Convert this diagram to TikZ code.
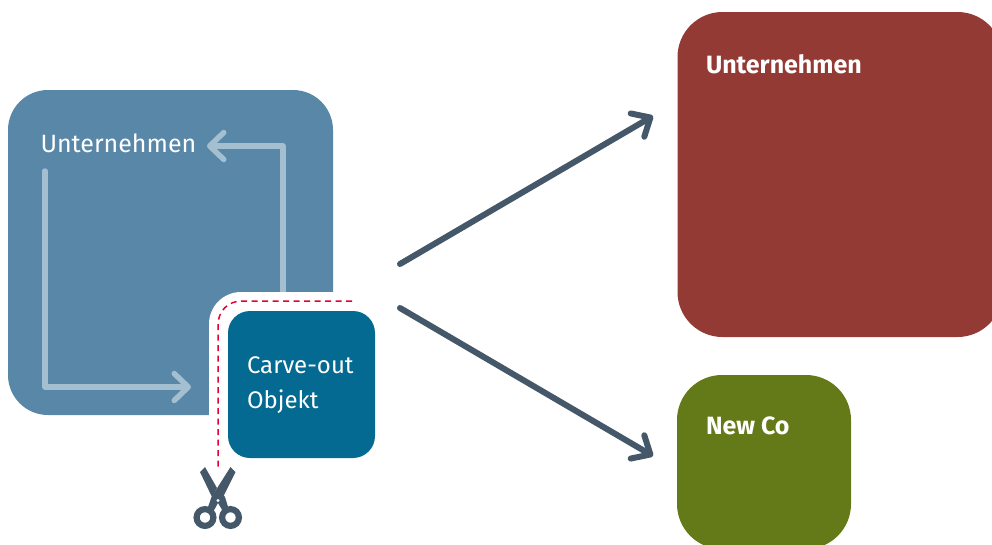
\documentclass[tikz,border=0pt]{standalone}
\usepackage{fontspec}
\setmainfont{Fira Sans}
\usetikzlibrary{arrows.meta}
\definecolor{boxblue}{HTML}{5887A8}
\definecolor{boxdeep}{HTML}{046A91}
\definecolor{boxred}{HTML}{943A35}
\definecolor{boxgreen}{HTML}{647917}
\definecolor{lightline}{HTML}{A3BFD0}
\definecolor{slate}{HTML}{44586A}
\definecolor{cutred}{HTML}{E4003A}
\tikzset{
  panel/.style={inner sep=0pt,outer sep=0pt,minimum width=#1,minimum height=#1,draw=none},
  label/.style={anchor=base west,inner sep=0pt,outer sep=0pt,text=white,font=\fontsize{24}{28}\selectfont},
  labelb/.style={label,font=\fontsize{25}{28}\selectfont\bfseries},
  flow/.style={draw=lightline,line width=5.5pt,line cap=round,line join=round,-{Straight Barb[length=14pt,width=27pt,round]}},
  branch/.style={draw=slate,line width=6pt,line cap=round,line join=round,-{Straight Barb[length=15pt,width=27pt,round]}},
  cut/.style={draw=cutred,line width=1.5pt,dash pattern=on 6pt off 4.5pt},
}
\begin{document}
\begin{tikzpicture}[x=1pt,y=-1pt]
\useasboundingbox (0,0) rectangle (992,544);
\clip (0,0) rectangle (992,544);
\node[panel=325pt,fill=boxblue,rounded corners=40pt] (company) at (170.5,252.5) {};
\fill[white,rounded corners=32pt] (209,292) rectangle (420,500);
\node[panel=147pt,fill=boxdeep,rounded corners=22pt] (carve) at (301.5,384.5) {};
\node[panel=325pt,fill=boxred,rounded corners=45pt] (after) at (840,174.5) {};
\node[panel=174pt,fill=boxgreen,rounded corners=45pt] (newco) at (764,462) {};
\node[label,font=\fontsize{25}{28}\selectfont] (t1) at (40.5,152) {Unternehmen};
\node[label] (t2) at (247,373) {Carve-out};
\node[label] (t3) at (247,408) {Objekt};
\node[labelb] (t4) at (706,73) {Unternehmen};
\node[labelb] (t5) at (706,434) {New Co};
% cycle arrows
\coordinate (f1a) at (45,171);
\coordinate (f1b) at (45,387);
\coordinate (f1c) at (191,387);
\coordinate (f2a) at (283,292);
\coordinate (f2b) at (283,146);
\coordinate (f2c) at (207,146);
\draw[flow] (f1a) -- (f1b) -- (f1c);
\draw[flow,line cap=butt] (f2a) -- (f2b) -- (f2c);
% branches
\coordinate (src1) at (400,264);
\coordinate (dst1) at (653,116);
\coordinate (src2) at (400,308);
\coordinate (dst2) at (653,456);
\draw[branch] (src1) -- (dst1);
\draw[branch] (src2) -- (dst2);
% cut line
\coordinate (c1) at (352,301);
\coordinate (c2) at (218,470);
\draw[cut] (c1) -- (242,301) .. controls (228,301) and (218,311) .. (218,325) -- (c2);
% scissors
\fill[slate] (200,472) -- (205,467) -- (217,488) -- (212,497) -- cycle;
\fill[slate] (235.5,472) -- (230.5,467) -- (211.5,497) -- (207,510) -- (212.5,513) -- (218,503) -- (222,499) -- cycle;
\fill[slate] (214,499) -- (218,503) -- (224,513) -- (229,510) -- (225,497) -- (221,491) -- cycle;
\draw[slate,line width=6.2pt] (205,517.5) circle (8.4);
\draw[slate,line width=6.2pt] (230.5,517.5) circle (8.4);
\fill[white] (218,500.5) circle (1.7);
\end{tikzpicture}
\end{document}
